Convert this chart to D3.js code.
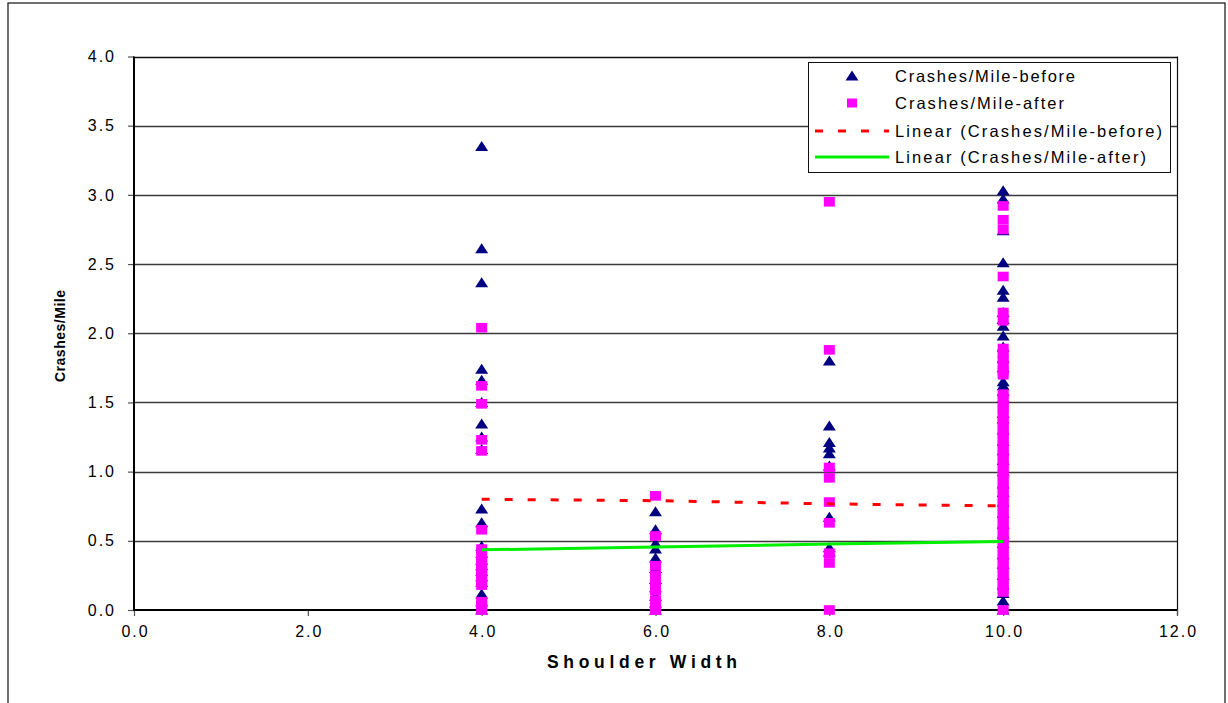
<!DOCTYPE html>
<html><head><meta charset="utf-8">
<script src="https://cdn.jsdelivr.net/npm/d3@7"></script>
<style>
html,body{margin:0;padding:0;background:#fff;}
svg{display:block;font-family:"Liberation Sans",Arial,sans-serif;}
</style></head>
<body><svg id="chart" width="1228" height="703"></svg>
<script>
// ---- data ----
const xTicks = [0, 2, 4, 6, 8, 10, 12];
const yTicks = [0, 0.5, 1.0, 1.5, 2.0, 2.5, 3.0, 3.5, 4.0];
const seriesNames = ["Crashes/Mile-before", "Crashes/Mile-after",
  "Linear (Crashes/Mile-before)", "Linear (Crashes/Mile-after)"];

const before4 = [3.35, 2.61, 2.365, 1.74, 1.66, 1.50, 1.345, 1.25, 1.16, 0.73, 0.63, 0.46, 0.41, 0.36, 0.32, 0.28, 0.24, 0.20, 0.115, 0.06, 0.03, 0.0];
const after4  = [2.04, 1.62, 1.49, 1.23, 1.15, 0.58, 0.44, 0.40, 0.36, 0.33, 0.30, 0.27, 0.24, 0.21, 0.18, 0.06, 0.03, 0.0];
const before6 = [0.71, 0.58, 0.48, 0.44, 0.375, 0.30, 0.22, 0.16, 0.10, 0.05, 0.0];
const after6  = [0.825, 0.535, 0.32, 0.25, 0.21, 0.17, 0.14, 0.07, 0.03, 0.0];
const before8 = [1.80, 1.33, 1.21, 1.17, 1.13, 1.04, 0.67, 0.45, 0.42];
const after8  = [2.95, 1.88, 1.03, 0.955, 0.78, 0.63, 0.41, 0.34, 0.0];
const before10 = [3.03, 2.97, 2.74, 2.51, 2.31, 2.26, 2.15, 2.10, 2.05, 1.98, 1.90, 1.82, 1.75, 1.65, 1.62, 1.58, 1.53, 1.42, 1.38, 1.30, 1.22, 1.15, 1.08, 1.00, 0.91, 0.85, 0.78, 0.70, 0.62, 0.55, 0.48, 0.40, 0.33, 0.25, 0.18, 0.12, 0.065, 0.0];
const after10 = [2.92, 2.82, 2.75, 2.41, 2.15, 2.09, 1.89, 1.85, 1.81, 1.77, 1.73, 1.70, 1.56, 1.52, 1.48, 1.45, 1.41, 1.37, 1.34, 1.30, 1.27, 1.23, 1.20, 1.16, 1.13, 1.09, 1.06, 1.02, 0.99, 0.95, 0.92, 0.88, 0.85, 0.81, 0.78, 0.74, 0.71, 0.67, 0.64, 0.60, 0.57, 0.53, 0.50, 0.46, 0.43, 0.39, 0.36, 0.32, 0.29, 0.25, 0.22, 0.18, 0.15, 0.13, 0.0];

const trendX = [4, 6, 8, 10];
const trendBefore = [0.80, 0.79, 0.767, 0.752];
const trendAfter = [0.435, 0.455, 0.477, 0.495];

// ---- build ----
const svg = d3.select("#chart");
const L = 134, R = 1177, T = 56.5, B = 610;
const x = d3.scaleLinear().domain([0, 12]).range([L, R]);
const y = d3.scaleLinear().domain([0, 4]).range([B, T]);

// outer frame
svg.append("rect").attr("x", 8).attr("y", 3).attr("width", 1217).attr("height", 720)
  .attr("fill", "none").attr("stroke", "#222").attr("stroke-width", 1.3);

// gridlines
svg.append("g").selectAll("line").data(yTicks.filter(d => d > 0)).join("line")
  .attr("x1", L).attr("x2", R).attr("y1", d => Math.round(y(d)) + 0.5).attr("y2", d => Math.round(y(d)) + 0.5)
  .attr("stroke", d => d === 4 ? "#111" : "#3a3a3a").attr("stroke-width", 1.3);
// right border of plot area
svg.append("line").attr("x1", R + 0.5).attr("x2", R + 0.5).attr("y1", T).attr("y2", B + 5)
  .attr("stroke", "#111").attr("stroke-width", 1.2);

// axes
const fmt = d3.format(".1f");
const yAxis = svg.append("g").attr("transform", `translate(${L},0)`)
  .call(d3.axisLeft(y).tickValues(yTicks).tickFormat(fmt).tickSize(6).tickPadding(12));
const xAxis = svg.append("g").attr("transform", `translate(0,${B})`)
  .call(d3.axisBottom(x).tickValues(xTicks).tickFormat(fmt).tickSize(6).tickPadding(10));
[yAxis, xAxis].forEach(g => {
  g.select(".domain").remove();
  g.selectAll(".tick line").attr("stroke", "#555").attr("stroke-width", 1.2);
  g.selectAll("text").attr("font-size", 16).attr("fill", "#000")
    .attr("font-family", "'Liberation Sans', Arial, sans-serif").style("letter-spacing", "2px");
});
xAxis.selectAll("text").attr("dx", "1px");
svg.append("line").attr("x1", L).attr("x2", L).attr("y1", T).attr("y2", B + 1)
  .attr("stroke", "#000").attr("stroke-width", 2);
svg.append("line").attr("x1", L - 1).attr("x2", R).attr("y1", B).attr("y2", B)
  .attr("stroke", "#000").attr("stroke-width", 2);

// axis titles
svg.append("text").attr("x", 547).attr("y", 668).attr("font-weight", "bold")
  .attr("font-size", 17.5).attr("textLength", 190).attr("lengthAdjust", "spacing")
  .attr("fill", "#000").text("Shoulder Width");
svg.append("text").attr("transform", "translate(65,382) rotate(-90)").attr("font-weight", "bold")
  .attr("font-size", 14).attr("textLength", 92).attr("lengthAdjust", "spacing")
  .attr("fill", "#000").text("Crashes/Mile");

// markers
const triPath = "M0,-5.5L6.5,4.5L-6.5,4.5Z";
const beforePts = [[4, before4], [6, before6], [8, before8], [10, before10]]
  .flatMap(([xv, arr]) => arr.map(v => ({x: xv, y: v})));
const afterPts = [[4, after4], [6, after6], [8, after8], [10, after10]]
  .flatMap(([xv, arr]) => arr.map(v => ({x: xv, y: v})));

svg.append("g").selectAll("path").data(beforePts).join("path")
  .attr("d", triPath).attr("transform", d => `translate(${x(d.x)},${y(d.y)})`)
  .attr("fill", "#000080");
svg.append("g").selectAll("rect").data(afterPts).join("rect")
  .attr("x", d => x(d.x) - 5.5).attr("y", d => y(d.y) - 4.8)
  .attr("width", 11).attr("height", 9.6).attr("fill", "#FF00FF");

// trend lines
const line = d3.line().x(d => x(d[0])).y(d => y(d[1]));
svg.append("path").datum(trendX.map((v, i) => [v, trendBefore[i]]))
  .attr("d", line).attr("fill", "none").attr("stroke", "#FF0000")
  .attr("stroke-width", 3).attr("stroke-dasharray", "8,15");
svg.append("path").datum(trendX.map((v, i) => [v, trendAfter[i]]))
  .attr("d", line).attr("fill", "none").attr("stroke", "#00F000")
  .attr("stroke-width", 3);

// legend
const lg = svg.append("g");
lg.append("rect").attr("x", 808.5).attr("y", 62.5).attr("width", 362).attr("height", 110)
  .attr("fill", "#fff").attr("stroke", "#111").attr("stroke-width", 1);
const rows = [76, 103, 131, 157];
lg.append("path").attr("d", triPath).attr("transform", `translate(852,${rows[0]})`).attr("fill", "#000080");
lg.append("rect").attr("x", 847).attr("y", rows[1] - 4.5).attr("width", 10).attr("height", 9).attr("fill", "#FF00FF");
lg.append("line").attr("x1", 815).attr("x2", 889).attr("y1", rows[2]).attr("y2", rows[2])
  .attr("stroke", "#FF0000").attr("stroke-width", 3).attr("stroke-dasharray", "8,15");
lg.append("line").attr("x1", 815).attr("x2", 889).attr("y1", rows[3]).attr("y2", rows[3])
  .attr("stroke", "#00F000").attr("stroke-width", 3);
const lens = [180, 169, 267, 251];
seriesNames.forEach((n, i) => {
  lg.append("text").attr("x", 895).attr("y", rows[i] + 6).attr("font-size", 16.5)
    .attr("textLength", lens[i]).attr("lengthAdjust", "spacing")
    .attr("fill", "#000").text(n);
});
</script></body></html>
